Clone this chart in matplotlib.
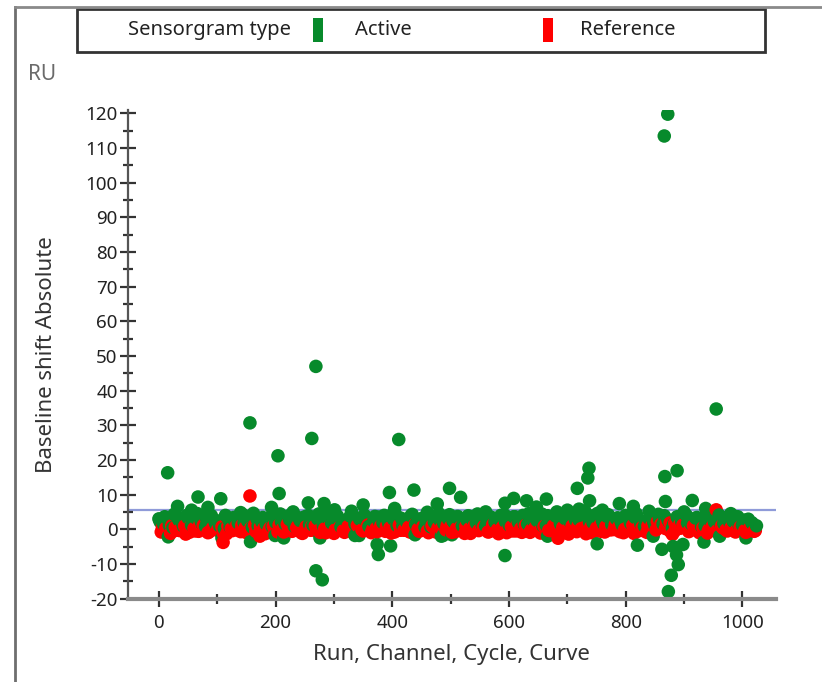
import numpy as np
import matplotlib
matplotlib.use("Agg")
import matplotlib.pyplot as plt
from matplotlib.lines import Line2D
from matplotlib.patches import Rectangle
from matplotlib.ticker import MultipleLocator

plt.rcParams["font.family"] = ["Noto Sans", "DejaVu Sans"]
plt.rcParams["axes.unicode_minus"] = False

# Baseline shift (RU) of the regular active-channel curves (curves 0, 8, 16, ...)
active_band = [
    3.0, 1.5, 2.8, 0.5, 3.5, 2.0, 4.0, 1.2, 3.2, 2.5, 0.8, 3.8, 2.2, 1.0, 0.2, 2.6,
    3.4, 1.8, 4.2, 2.4, 0.6, 3.0, 2.2, 1.4, 3.6, 2.0, 4.4, 1.6, 2.8, 0.9, 3.3, 2.1,
    4.0, 1.2, 3.0, 2.4, 4.6, 1.8, 3.2, 0.7, 2.6, 3.8, 1.5, 2.9, 4.1, 0.8, 2.3, 3.5,
    1.9, 2.7, 4.3, 1.1, 3.1, 2.2, 3.9, 1.4, 2.8, 0.6, 3.4, 2.0, 4.5, 1.7, 3.0, 2.4,
    3.7, 1.0, 2.6, 3.3, 1.8, 2.9, 0.9, 3.5, 2.1, 2.8, 4.2, 1.3, 3.6, 2.0, 4.0, 1.5,
    3.2, 2.5, 4.4, 1.1, 2.9, 3.8, 1.6, 3.1, 2.3, 4.1, 2.7, 4.8, 3.3, 1.9, 4.6, 2.5,
    3.7, 1.4, 3.0, 2.2, 4.0, 1.8, 3.4, 2.6, 0.9, 3.1, 2.0, 4.3, 1.5, 2.8, 0.4, 3.6,
    2.2, 4.0, 1.6, 3.2, 2.4, 1.0, 3.5, 2.1, 4.1, 1.7, 3.0, 2.3, 3.6, 1.2, 2.7, 1.9,
    1.0,
]

# Second active channel (curves 2, 10, 18, ...)
active_band_b = [
    2.2, 3.6, 1.1, 4.3, 2.7, 0.9, 3.3, 2.0, 4.5, 1.6, 2.9, 3.9, 1.3, 2.5, 4.0, 0.7,
    2.3, 3.7, 1.9, 2.8, 4.6, 1.0, 3.4, 2.6, 0.8, 3.9, 2.1, 3.0, 4.2, 1.7, 2.5, 3.6,
    1.4, 2.9, 4.4, 0.9, 3.2, 2.0, 3.8, 1.5, 2.7, 4.1, 1.2, 3.3, 2.4, 0.8, 3.7, 2.1,
    4.0, 1.6, 2.9, 3.5, 1.0, 2.6, 4.3, 1.9, 3.1, 2.3, 0.7, 3.8, 2.5, 1.4, 4.2, 2.0,
    3.0, 1.1, 3.9, 2.6, 4.4, 1.3, 2.8, 3.4, 1.8, 4.0, 2.2, 0.9, 3.6, 2.7, 1.5, 4.5,
    2.4, 3.2, 1.0, 3.9, 2.9, 5.0, 2.1, 3.7, 4.4, 2.6, 3.5, 5.2, 2.0, 4.0, 3.1, 1.6,
    4.2, 2.5, 3.3, 1.2, 3.8, 2.7, 4.5, 1.4, 2.3, 3.6, 1.0, 2.9, 3.9, 2.2, 1.5, 3.0,
    4.1, 1.8, 2.6, 3.4, 0.8, 3.1, 2.4, 4.0, 1.7, 3.3, 2.0, 3.7, 1.3, 2.6, 2.9, 1.5,
]

# Baseline shift (RU) of the regular reference-channel curves (curves 4, 12, 20, ...)
reference_band = [
    -0.8, 0.3, -1.2, 0.6, -0.4, 0.9, -0.9, 0.2, -0.6, 1.1, -1.0, 0.4, -0.3, 0.7, -1.3, 0.1,
    0.8, -0.7, 0.5, -0.2, 1.2, -1.1, 0.3, -0.5, 0.9, -0.8, 0.2, 1.4, -0.6, 0.4, -1.0, 0.7,
    -0.3, 1.0, -0.9, 0.1, 0.6, -1.2, 0.3, -0.4, 0.8, -0.7, 1.1, -0.2, 0.5, -1.0, 0.2, 0.9,
    -0.6, 0.4, -0.8, 1.2, -0.3, 0.6, -1.1, 0.0, 0.7, -0.5, 1.0, -0.9, 0.3, -0.2, 0.8, -0.7,
    0.5, -1.2, 0.1, 0.9, -0.4, 0.6, -0.8, 1.3, -0.1, 0.4, -1.0, 0.7, -0.5, 0.2, 1.1, -0.9,
    0.3, -0.6, 0.8, -0.3, 1.0, -1.1, 0.5, -0.2, 0.9, -0.7, 0.2, -1.3, 0.6, -0.4, 1.2, -0.8,
    0.4, -0.1, 0.7, -1.0, 0.3, 1.1, -0.6, 0.5, -0.9, 0.8, -0.2, 1.4, 0.2, 1.8, -0.5, 1.2,
    0.6, -0.7, 1.0, -0.3, 0.4, -1.1, 0.7, -0.5, 0.9, -0.2, 0.3, -0.8, 0.6, -0.4, 0.2, -0.6,
]

# Second reference channel (curves 6, 14, 22, ...)
reference_band_b = [
    0.5, -0.9, 1.0, -0.3, 0.2, -1.4, 0.8, -0.5, 1.3, -0.1, -0.8, 0.6, 0.0, -1.1, 0.9, -0.4,
    -0.2, 1.1, -1.0, 0.4, -0.6, 0.7, -1.3, 0.3, -0.1, 1.2, -0.8, 0.5, -0.4, 1.0, -1.2, 0.2,
    0.9, -0.6, 0.3, -1.0, 1.1, -0.2, 0.6, -0.9, 0.1, -1.3, 0.8, -0.5, 1.2, -0.1, -0.7, 0.4,
    1.0, -1.1, 0.5, -0.3, 0.2, -0.8, 1.3, -0.6, 0.0, -1.0, 0.7, 0.3, -0.4, 1.1, -0.9, 0.2,
    -0.3, 0.9, -1.2, 0.6, -0.1, 1.0, -0.7, 0.4, -1.3, 0.8, 0.1, -0.5, 1.2, -0.9, 0.3, -0.2,
    0.7, -1.1, 0.5, -0.4, 1.0, -0.8, 0.2, -1.4, 0.6, 0.9, -0.3, 1.1, -1.0, 0.4, -0.6, 0.8,
    -0.2, 1.3, -0.7, 0.0, 0.9, -1.2, 0.5, -0.4, 1.0, -0.1, 2.2, 0.8, 1.6, -0.9, 2.4, 0.3,
    1.5, -0.4, 0.9, -1.0, 0.6, -0.2, 1.1, -0.7, 0.4, -0.5, 0.8, -0.3, 0.5, -0.9, 0.2, -0.4,
]

# Individual active curves away from the main band: (curve number, RU)
active_extra_x = [
    15, 32, 56, 67, 84, 106, 16, 108, 156, 157, 193, 199, 204, 206, 214, 256, 262, 269,
    269, 276, 280, 283, 301, 336, 343, 350, 374, 376, 395, 397, 404, 411, 437, 439, 477,
    484, 487, 498, 502, 517, 593, 593, 608, 630, 647, 664, 666, 717, 735, 737, 738, 751,
    789, 813, 820, 847, 862, 866, 867, 868, 872, 873, 878, 881, 887, 888, 890, 898, 914,
    934, 937, 955, 961, 1006, 140, 230, 330, 460, 560, 700, 720, 760, 840, 900, 980,
]
active_extra_y = [
    16.3, 6.6, 5.5, 9.3, 6.3, 8.8, -2.2, -2.5, 30.7, -3.6, 6.3, -1.8, 21.2, 10.3, -2.5, 7.6,
    26.2, 47.0, -12.0, -2.5, -14.6, 7.4, 5.6, -1.8, -1.8, 7.0, -4.4, -7.3, 10.6, -4.8, 6.0,
    25.9, 11.3, -1.6, 7.3, -2.0, -1.8, 11.8, -1.6, 9.2, -7.6, 7.5, 8.9, 8.2, 6.4, 8.7, -2.0,
    11.8, 14.8, 17.6, 8.2, -4.2, 7.4, 6.6, -4.6, -2.0, -5.8, 113.5, 15.2, 8.0, 119.8, -18.0,
    -13.3, -5.0, -7.4, 16.9, -10.2, -4.4, 8.3, -3.7, 6.0, 34.7, -2.0, -2.5, 4.8, 5.0, 5.2,
    4.9, 5.0, 5.5, 5.8, 5.5, 5.2, 5.0, 4.5,
]

# Individual reference curves away from the main band
reference_extra_x = [110, 156, 173, 684, 955, 862, 870, 876, 884, 892, 898, 880]
reference_extra_y = [-3.8, 9.6, -2.0, -2.6, 5.6, 1.5, 2.0, -0.5, 1.8, 0.5, 1.2, -1.5]

threshold = 5.5  # RU level of the horizontal guide line

x_ticks = [0, 200, 400, 600, 800, 1000]
y_ticks = list(range(-20, 121, 10))

GREEN = "#078a2b"
RED = "#ff0000"


def curve_numbers(start, values):
    """Curve numbers of a channel that repeats every 8 curves."""
    return list(np.arange(start, start + 8 * len(values), 8))


# Assemble all curves in curve order so markers overlap the way they were acquired
active_x = (curve_numbers(0, active_band) + curve_numbers(2, active_band_b)
            + active_extra_x)
active_y = active_band + active_band_b + active_extra_y
ref_x = (curve_numbers(4, reference_band) + curve_numbers(6, reference_band_b)
         + reference_extra_x)
ref_y = reference_band + reference_band_b + reference_extra_y

xs = np.array(active_x + ref_x, dtype=float)
ys = np.array(active_y + ref_y, dtype=float)
cols = np.array([GREEN] * len(active_x) + [RED] * len(ref_x))
order = np.argsort(xs, kind="stable")

fig = plt.figure(figsize=(8.22, 6.82), dpi=100)
ax = fig.add_axes([0.1557, 0.1224, 0.788, 0.7163])

ax.axhline(threshold, color="#8f9bd9", lw=1.6, zorder=1)
ax.scatter(xs[order], ys[order], c=cols[order], s=95, linewidths=0, zorder=2)

ax.set_xlim(-53, 1057)
ax.set_ylim(-20, 121)
ax.set_xticks(x_ticks)
ax.set_yticks(y_ticks)
ax.xaxis.set_minor_locator(MultipleLocator(100))
ax.yaxis.set_minor_locator(MultipleLocator(5))

for side in ("top", "right"):
    ax.spines[side].set_visible(False)
ax.spines["left"].set_color("#555555")
ax.spines["left"].set_linewidth(1.6)
ax.spines["bottom"].set_color("#8a8a8a")
ax.spines["bottom"].set_linewidth(3)

ax.tick_params(axis="both", which="major", direction="inout", length=11, width=1.6,
               color="#333333", labelsize=13.5, labelcolor="#222222")
ax.tick_params(axis="both", which="minor", direction="inout", length=7, width=1.6,
               color="#333333")
ax.tick_params(axis="y", pad=2)
ax.tick_params(axis="x", pad=6)

ax.set_xlabel("Run, Channel, Cycle, Curve", fontsize=16, color="#333333", labelpad=8)
ax.set_ylabel("Baseline shift Absolute", fontsize=16, color="#333333", labelpad=20)

# Outer frame lines
fig.add_artist(Line2D([15 / 822, 15 / 822], [0, 1 - 7 / 682], transform=fig.transFigure,
                      color="#6e6e6e", lw=2))
fig.add_artist(Line2D([15 / 822, 1], [1 - 7 / 682, 1 - 7 / 682], transform=fig.transFigure,
                      color="#8a8a8a", lw=2))

# Unit label
fig.text(28 / 822, 1 - 75 / 682, "RU", fontsize=15, color="#6a6a6a", va="center", ha="left")

# Legend panel
fig.add_artist(Rectangle((77 / 822, 1 - 52 / 682), 688 / 822, 43 / 682,
                         transform=fig.transFigure, facecolor="white",
                         edgecolor="#333333", lw=2))
ly = 1 - 30 / 682
fig.text(128 / 822, ly, "Sensorgram type", fontsize=14.5, color="#222222",
         va="center", ha="left")
fig.add_artist(Rectangle((313 / 822, 1 - 42 / 682), 10 / 822, 24 / 682,
                         transform=fig.transFigure, facecolor=GREEN, edgecolor="none"))
fig.text(355 / 822, ly, "Active", fontsize=14.5, color="#222222", va="center", ha="left")
fig.add_artist(Rectangle((543 / 822, 1 - 42 / 682), 10 / 822, 24 / 682,
                         transform=fig.transFigure, facecolor=RED, edgecolor="none"))
fig.text(580 / 822, ly, "Reference", fontsize=14.5, color="#222222", va="center", ha="left")

fig.savefig("out.png", dpi=100)
